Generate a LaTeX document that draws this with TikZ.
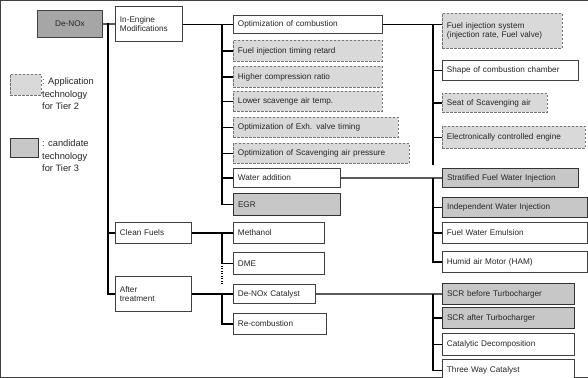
\documentclass[tikz,border=0pt]{standalone}
\usepackage{fontspec}
\setmainfont{Liberation Sans}
\begin{document}
\begin{tikzpicture}[x=1pt,y=-1pt,
  every node/.style={font=\fontsize{8.2}{9.5}\selectfont, text=black!85},
  white/.style={draw=black!75, line width=0.9pt, fill=white},
  tiertwo/.style={draw=black!55, dashed, dash pattern=on 2.5pt off 1.5pt, line width=0.9pt, fill=black!15},
  tierthree/.style={draw=black!80, line width=1pt, fill=black!22},
  conn/.style={draw=black, line width=1.2pt},
  legtext/.style={font=\fontsize{9.3}{12.5}\selectfont, align=left, anchor=north west, inner sep=1pt}]
\useasboundingbox (0,0) rectangle (588,377);
\fill[white] (0,0) rectangle (588,377);
\newcommand\bx[7]{%
  \pgfmathsetmacro\bxw{#4-#2}\pgfmathsetmacro\bxh{#5-#3}\pgfmathsetmacro\bxt{#4-#2-9}%
  \node[#6, anchor=north west, minimum width=\bxw pt, minimum height=\bxh pt,
        text width=\bxt pt, inner xsep=4.5pt, inner ysep=0pt, align=left] (#1) at (#2,#3) {#7};}
% root
\node[draw=black!75, line width=1pt, fill=black!35, anchor=north west, minimum width=65pt, minimum height=27pt, inner sep=0pt] (denox) at (37,10) {De-NOx};
% level 1
\bx{ie}{115}{6}{182}{41}{white}{In-Engine\\[-1pt]Modifications}
\bx{clean}{115}{222}{191}{243}{white}{Clean Fuels}
\bx{after}{115}{276}{191}{311}{white}{After\\[-1pt]treatment}
% level 2
\bx{opt}{233}{15}{382}{33}{white}{Optimization of combustion}
\bx{fitr}{233}{40}{382}{61}{tiertwo}{Fuel injection timing retard}
\bx{hcr}{233}{66}{382}{87}{tiertwo}{Higher compression ratio}
\bx{lsat}{233}{91}{382}{111}{tiertwo}{Lower scavenge air temp.}
\bx{oevt}{233}{117}{398}{137}{tiertwo}{Optimization of Exh. valve timing}
\bx{osap}{233}{143}{409}{163}{tiertwo}{Optimization of Scavenging air pressure}
\bx{wa}{233}{168}{340}{187}{white}{Water addition}
\bx{egr}{233}{193}{340}{215}{tierthree}{EGR}
\bx{meth}{233}{222}{324}{243}{white}{Methanol}
\bx{dme}{233}{252}{324}{274}{white}{DME}
\bx{dcat}{233}{284}{315}{303}{white}{De-NOx Catalyst}
\bx{recomb}{233}{313}{326}{334}{white}{Re-combustion}
% level 3
\bx{fis}{442}{13}{562}{48}{tiertwo}{Fuel injection system\\[-1pt](injection rate, Fuel valve)}
\bx{scc}{442}{60}{578}{80}{white}{Shape of combustion chamber}
\bx{ssa}{442}{93}{547}{112}{tiertwo}{Seat of Scavenging air}
\bx{ece}{442}{126}{585}{148}{tiertwo}{Electronically controlled engine}
\bx{sfwi}{442}{168}{578}{187}{tierthree}{Stratified Fuel Water Injection}
\bx{iwi}{442}{197}{587}{217}{tierthree}{Independent Water Injection}
\bx{fwe}{442}{222}{587}{243}{white}{Fuel Water Emulsion}
\bx{ham}{442}{251}{587}{272}{white}{Humid air Motor (HAM)}
\bx{scrb}{442}{283}{574}{304}{tierthree}{SCR before Turbocharger}
\bx{scra}{442}{307}{574}{328}{tierthree}{SCR after Turbocharger}
\bx{cd}{442}{333}{574}{355}{white}{Catalytic Decomposition}
\bx{twc}{442}{359}{574}{381}{white}{Three Way Catalyst}
% legend
\node[tiertwo, anchor=north west, minimum width=31pt, minimum height=21pt, inner sep=0pt] (leg2) at (10,74) {};
\node[legtext] (leg2t) at (41,77) {: Application\\technology\\for Tier 2};
\node[tierthree, anchor=north west, minimum width=28pt, minimum height=19pt, inner sep=0pt] (leg3) at (10,138) {};
\node[legtext] (leg3t) at (41,139) {: candidate\\technology\\for Tier 3};
% connectors: root
\coordinate (a0) at (108,23.5);
\draw[conn] (denox.east) -- (ie.west);
\draw[conn] (a0) |- (after.west);
\draw[conn] (a0 |- clean.west) -- (clean.west);
% in-engine
\coordinate (b0) at (222,24);
\draw[conn] (ie.east |- opt.west) -- (opt.west);
\draw[conn] (b0) |- (egr.west);
\foreach \n in {fitr,hcr,lsat,oevt,osap,wa} \draw[conn] (b0 |- \n.west) -- (\n.west);
\coordinate (c0) at (433,24);
\coordinate (c1) at (433,165);
\draw[conn] (opt.east) -- (opt.east -| fis.west);
\draw[conn] (c0) -- (c1);
\foreach \n in {scc,ssa,ece} \draw[conn] (c0 |- \n.west) -- (\n.west);
\draw[conn] (wa.east) -- (sfwi.west);
\coordinate (c2) at (433,177.5);
\draw[conn] (c2) |- (ham.west);
\foreach \n in {iwi,fwe} \draw[conn] (c2 |- \n.west) -- (\n.west);
% clean fuels
\draw[conn] (clean.east) -- (clean.east -| meth.west);
\coordinate (d0) at (222,232.5);
\coordinate (d1) at (222,284);
\draw[conn] (d0) |- (dme.west);
\draw[line width=1.1pt, dash pattern=on 1pt off 1.5pt] (dme.west -| d0) -- (d1);
% after treatment
\draw[conn] (after.east) -- (dcat.west);
\coordinate (e0) at (222,293.5);
\draw[conn] (e0) |- (recomb.west);
\draw[conn] (dcat.east) -- (scrb.west);
\coordinate (f0) at (433,293.5);
\draw[conn] (f0) |- (twc.west);
\foreach \n in {scra,cd} \draw[conn] (f0 |- \n.west) -- (\n.west);
\end{tikzpicture}
\end{document}
